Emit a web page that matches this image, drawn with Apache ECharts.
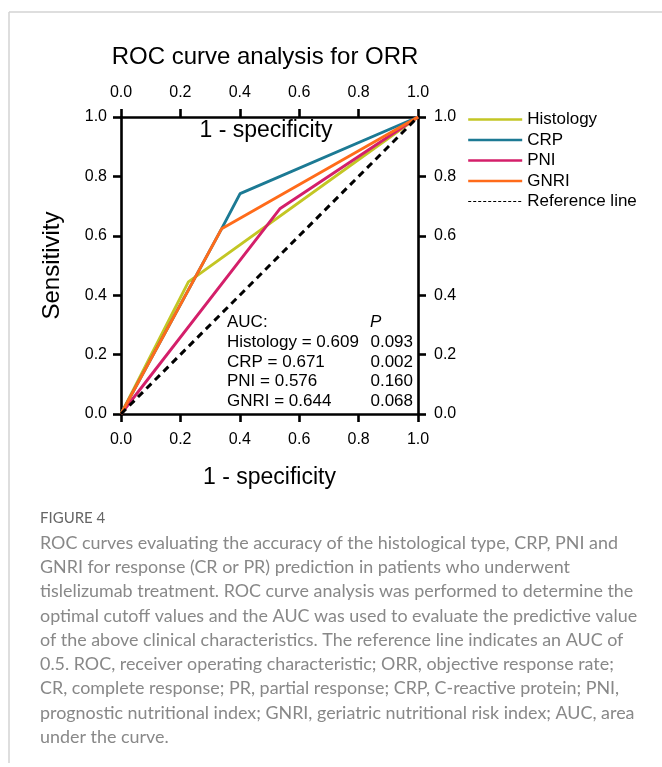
<!DOCTYPE html>
<html>
<head>
<meta charset="utf-8">
<script src="https://cdn.jsdelivr.net/npm/echarts@6/dist/echarts.min.js"></script>
<style>
  html, body { margin: 0; padding: 0; background: #fff; }
  #chart { width: 662px; height: 767px; }
</style>
</head>
<body>
<div id="chart"></div>
<script>
// ROC curve data (1 - specificity, sensitivity)
var histX = [0, 0.227, 1];
var histY = [0, 0.445, 1];
var crpX = [0, 0.339, 0.401, 1];
var crpY = [0, 0.624, 0.742, 1];
var pniX = [0, 0.536, 1];
var pniY = [0, 0.692, 1];
var gnriX = [0, 0.339, 1];
var gnriY = [0, 0.624, 1];
var refX = [0, 1];
var refY = [0, 1];

var seriesNames = ["Histology", "CRP", "PNI", "GNRI", "Reference line"];
var aucNames = ["Histology", "CRP", "PNI", "GNRI"];
var aucValues = ["0.609", "0.671", "0.576", "0.644"];
var pValues = ["0.093", "0.002", "0.160", "0.068"];

var captionLines = [
    "ROC curves evaluating the accuracy of the histological type, CRP, PNI and",
    "GNRI for response (CR or PR) prediction in patients who underwent",
    "tislelizumab treatment. ROC curve analysis was performed to determine the",
    "optimal cutoff values and the AUC was used to evaluate the predictive value",
    "of the above clinical characteristics. The reference line indicates an AUC of",
    "0.5. ROC, receiver operating characteristic; ORR, objective response rate;",
    "CR, complete response; PR, partial response; CRP, C-reactive protein; PNI,",
    "prognostic nutritional index; GNRI, geriatric nutritional risk index; AUC, area",
    "under the curve."
];

var colors = ["#c3c624", "#1c7a94", "#d41f6a", "#ff6b1a", "#000"];
var font = "Liberation Sans, Arial, sans-serif";

function pairs(xs, ys) {
    return xs.map(function(x, i) { return [x, ys[i]]; });
}

(function() {
    var myChart = echarts.init(document.getElementById("chart"));

    function axisCommon(pos, margin) {
        return {
            type: "value",
            position: pos,
            min: 0,
            max: 1,
            interval: 0.2,
            axisLine: { show: true, onZero: false, lineStyle: { color: "#000", width: 2.6 } },
            axisTick: { show: true, inside: false, length: 8, lineStyle: { color: "#000", width: 2.6 } },
            axisLabel: {
                margin: margin,
                color: "#000",
                fontSize: 16,
                fontFamily: font,
                formatter: function(v) { return v.toFixed(1); }
            },
            splitLine: { show: false }
        };
    }

    var xBottom = axisCommon("bottom", 18);
    xBottom.name = "1 - specificity";
    xBottom.nameLocation = "middle";
    xBottom.nameGap = 52;
    xBottom.nameTextStyle = { fontSize: 23, fontFamily: font, color: "#000" };

    var xTop = axisCommon("top", 16);

    var yLeft = axisCommon("left", 14);
    yLeft.name = "Sensitivity";
    yLeft.nameLocation = "middle";
    yLeft.nameGap = 57;
    yLeft.nameTextStyle = { fontSize: 24, fontFamily: font, color: "#000" };

    var yRight = axisCommon("right", 16);

    var lineData = [
        pairs(histX, histY),
        pairs(crpX, crpY),
        pairs(pniX, pniY),
        pairs(gnriX, gnriY),
        pairs(refX, refY)
    ];

    var series = seriesNames.map(function(name, i) {
        var isRef = i === 4;
        return {
            name: name,
            type: "line",
            xAxisIndex: 0,
            yAxisIndex: 0,
            data: lineData[i],
            symbol: "none",
            silent: true,
            z: 2 + i,
            lineStyle: {
                color: colors[i],
                width: isRef ? 3 : 2.9,
                type: isRef ? [7, 5] : "solid"
            },
            itemStyle: { color: colors[i] }
        };
    });

    var hidden = { color: "rgba(0,0,0,0)", borderWidth: 0, opacity: 0 };
    var legendData = seriesNames.map(function(name, i) {
        if (i === 4) {
            return { name: name, itemStyle: hidden, lineStyle: { width: 1.2, type: [3, 2], color: "#000" } };
        }
        return { name: name, itemStyle: hidden, lineStyle: { width: 2.4 } };
    });

    var graphics = [
        // page frame
        { type: "line", shape: { x1: 9, y1: 12, x2: 662, y2: 12 }, style: { stroke: "#d3d3d3", lineWidth: 1.5 } },
        { type: "line", shape: { x1: 9, y1: 12, x2: 9, y2: 763 }, style: { stroke: "#d3d3d3", lineWidth: 1.5 } },
        // title
        { type: "text", x: 265, y: 57, style: { text: "ROC curve analysis for ORR", font: "24px " + font, fill: "#000", align: "center", verticalAlign: "middle" } },
        // top axis name (inside plot)
        { type: "text", x: 266, y: 131, style: { text: "1 - specificity", font: "23px " + font, fill: "#000", align: "center", verticalAlign: "middle" } },
        // AUC header
        { type: "text", x: 227, y: 322, style: { text: "AUC:", font: "17px " + font, fill: "#000", verticalAlign: "middle" } },
        { type: "text", x: 370, y: 322, style: { text: "P", font: "italic 17px " + font, fill: "#000", verticalAlign: "middle" } }
    ];

    aucNames.forEach(function(n, i) {
        var y = 342 + i * 19.9;
        graphics.push({ type: "text", x: 227, y: y, style: { text: n + " = " + aucValues[i], font: "17px " + font, fill: "#000", verticalAlign: "middle" } });
        graphics.push({ type: "text", x: 413, y: y, style: { text: pValues[i], font: "17px " + font, fill: "#000", align: "right", verticalAlign: "middle" } });
    });

    // caption
    graphics.push({ type: "text", x: 40, y: 518, style: { text: "FIGURE 4", font: "15px Lato, sans-serif", fill: "#666", verticalAlign: "middle" } });
    captionLines.forEach(function(line, i) {
        graphics.push({ type: "text", x: 40, y: 543 + i * 24.25, style: { text: line, font: "17.9px Lato, sans-serif", fill: "#888", verticalAlign: "middle" } });
    });

    var option = {
        animation: false,
        backgroundColor: "#fff",
        grid: { left: 121, top: 117, width: 297, height: 297, containLabel: false },
        xAxis: [xBottom, xTop],
        yAxis: [yLeft, yRight],
        legend: {
            orient: "vertical",
            left: 467,
            top: 111,
            padding: 0,
            itemWidth: 54,
            itemHeight: 14,
            itemGap: 3.5,
            selectedMode: false,
            itemStyle: hidden,
            textStyle: { fontSize: 17, fontFamily: font, color: "#000" },
            data: legendData
        },
        series: series,
        graphic: graphics
    };
    myChart.setOption(option);
}());
</script>
</body>
</html>
